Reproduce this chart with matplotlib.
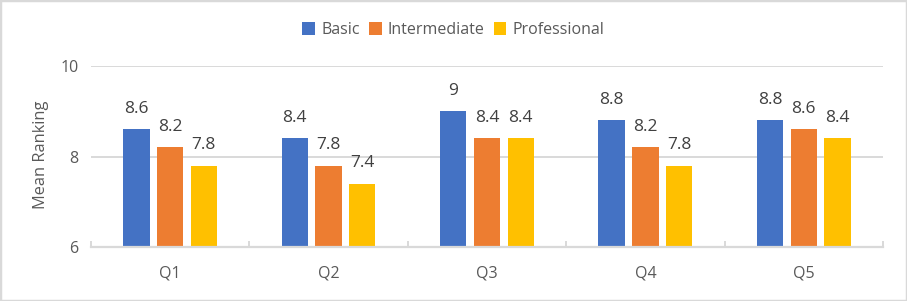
import numpy as np
import matplotlib
matplotlib.use("Agg")
import matplotlib.pyplot as plt
from matplotlib.patches import Rectangle

# data
questions = ["Q1", "Q2", "Q3", "Q4", "Q5"]
basic = [8.6, 8.4, 9, 8.8, 8.8]
intermediate = [8.2, 7.8, 8.4, 8.2, 8.6]
professional = [7.8, 7.4, 8.4, 7.8, 8.4]
series_names = ["Basic", "Intermediate", "Professional"]
colors = ["#4472C4", "#ED7D31", "#FFC000"]

plt.rcParams['font.family'] = ['Open Sans', 'DejaVu Sans']
textcol = "#595959"
gridcol = "#D9D9D9"

fig = plt.figure(figsize=(9.07, 3.01), dpi=100)
ax = fig.add_axes([0.1003, 0.1794, 0.8732, 0.6013])

x = np.arange(len(questions))
step = 0.213
width = 0.166
allvals = [basic, intermediate, professional]
for i in range(3):
    bars = ax.bar(x + (i - 1) * step, allvals[i], width, color=colors[i],
                  label=series_names[i], zorder=3)
    for b, v in zip(bars, allvals[i]):
        lab = "%g" % v
        ax.annotate(lab, (b.get_x() + b.get_width() / 2, v),
                    xytext=(0, 12), textcoords="offset points",
                    ha="center", va="baseline", fontsize=12.5, color="#404040")

ax.set_ylim(6, 10)
ax.set_yticks([6, 8, 10])
ax.set_xlim(-0.5, 4.5)
ax.set_xticks(x)
ax.set_xticklabels(questions)
ax.set_xticks(np.arange(-0.5, 5, 1), minor=True)

ax.yaxis.grid(True, color=gridcol, linewidth=1.4, zorder=0)
ax.set_axisbelow(True)
for s in ["top", "right", "left"]:
    ax.spines[s].set_visible(False)
ax.spines["bottom"].set_color(gridcol)
ax.spines["bottom"].set_linewidth(1.6)
ax.spines["bottom"].set_zorder(4)

ax.tick_params(axis="y", length=0, pad=9, labelsize=11.5, labelcolor=textcol)
ax.tick_params(axis="x", which="major", length=0, pad=13, labelsize=11.5, labelcolor=textcol)
ax.tick_params(axis="x", which="minor", direction="in", length=4.5, width=1.4, color=gridcol)

fig.text(0.045, 0.485, "Mean Ranking", rotation=90, ha="center", va="center",
         fontsize=11.8, color=textcol)

leg = fig.legend(loc="center", bbox_to_anchor=(0.5, 0.9), ncol=3, frameon=False,
                 fontsize=11.5, handlelength=0.8, handleheight=0.8,
                 handletextpad=0.4, columnspacing=0.55)
for t in leg.get_texts():
    t.set_color(textcol)

fig.patches.append(Rectangle((0, 0), 1, 1, transform=fig.transFigure, fill=False,
                             edgecolor=gridcol, linewidth=2.5))

plt.savefig("out.png", dpi=100)
